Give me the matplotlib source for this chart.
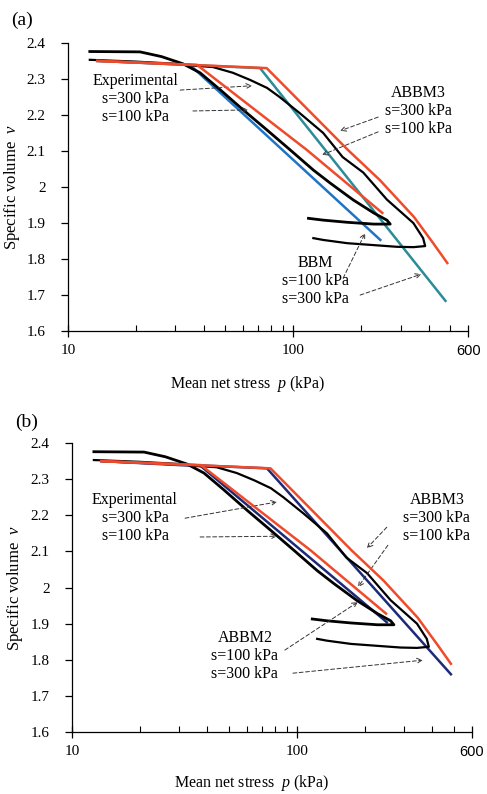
"""
Specific volume vs mean net stress: experiment vs BBM / ABBM2 / ABBM3
"""
import matplotlib
matplotlib.use('Agg')
import matplotlib.pyplot as plt
from matplotlib.ticker import NullFormatter

plt.rcParams['font.family'] = ['Liberation Serif', 'DejaVu Serif']
plt.rcParams['mathtext.fontset'] = 'custom'
plt.rcParams['mathtext.rm'] = 'Liberation Serif'
plt.rcParams['mathtext.it'] = 'Liberation Serif:italic'

# experimental curves (loading + unloading)
exp100_p = [12.5, 20.9, 26, 32.4, 38.6, 47.4, 60, 76.6, 97, 123, 146, 185, 228, 261, 270,
            228, 174, 136, 117]
exp100_v = [2.376, 2.375, 2.362, 2.342, 2.317, 2.27, 2.214, 2.158, 2.103, 2.047, 2.011, 1.964, 1.928, 1.908, 1.897,
            1.897, 1.902, 1.908, 1.913]
exp300_p = [12.5, 20, 30, 37.4, 44, 54, 64.5, 76.6, 87, 107, 136, 166, 205, 261, 342, 378, 386,
            342, 289, 174, 136, 123]
exp300_v = [2.353, 2.348, 2.342, 2.336, 2.333, 2.317, 2.297, 2.275, 2.25, 2.205, 2.15, 2.083, 2.04, 1.965, 1.90, 1.858,
            1.836, 1.833, 1.834, 1.844, 1.853, 1.858]

# ABBM3
abbm3_100_p = [13.5, 37.4, 115, 205, 249]
abbm3_100_v = [2.35, 2.339, 2.103, 1.972, 1.928]
abbm3_300_p = [13.5, 76.3, 175, 243, 344, 419, 484]
abbm3_300_v = [2.35, 2.33, 2.103, 2.019, 1.917, 1.844, 1.789]

# BBM
bbm100_p = [13.5, 34.8, 244]
bbm100_v = [2.35, 2.339, 1.853]
bbm300_p = [13.5, 71.3, 475]
bbm300_v = [2.35, 2.33, 1.684]

# ABBM2
abbm2_100_p = [13.5, 37.4, 251]
abbm2_100_v = [2.35, 2.336, 1.904]
abbm2_300_p = [13.5, 73.6, 484]
abbm2_300_v = [2.35, 2.33, 1.76]

RED = '#ef4b2b'
BLUE = '#1f74c6'
TEAL = '#2b8c98'
NAVY = '#1c2a78'
FS = 11
FS_NOTE = 11.5


def style_axes(ax):
    ax.set_xscale('log')
    ax.set_xlim(10, 600)
    ax.set_ylim(1.6, 2.4)
    ax.spines['top'].set_visible(False)
    ax.spines['right'].set_visible(False)
    ax.set_yticks([1.6, 1.7, 1.8, 1.9, 2.0, 2.1, 2.2, 2.3, 2.4])
    ax.set_yticklabels(['1.6', '1.7', '1.8', '1.9', '2', '2.1', '2.2', '2.3', '2.4'])
    ax.set_xticks([10, 100, 600])
    ax.set_xticklabels(['10', '100', '600'])
    ax.xaxis.set_minor_formatter(NullFormatter())
    ax.tick_params(axis='x', which='major', direction='inout', length=8, width=0.9, pad=5, labelsize=FS)
    ax.tick_params(axis='x', which='minor', direction='in', length=4, width=0.8)
    ax.tick_params(axis='y', which='major', direction='out', length=5, width=0.9, pad=11, labelsize=FS)
    lab600 = ax.get_xticklabels()[2]
    lab600.set_fontfamily(['Liberation Sans', 'DejaVu Sans'])
    lab600.set_fontsize(10.5)
    ax.set_ylabel('Specific volume  $v$', fontsize=12)
    ax.set_xlabel('Mean net stress  $p$ (kPa)', fontsize=11.5)
    for s in ('left', 'bottom'):
        ax.spines[s].set_linewidth(0.9)


def arrow(ax, start, end):
    ax.annotate('', xy=end, xytext=start,
                arrowprops=dict(arrowstyle='->', linestyle=(0, (4, 2.5)), lw=0.7, color='#333333',
                                shrinkA=0, shrinkB=0, mutation_scale=9))


fig = plt.figure(figsize=(4.87, 7.94), dpi=100)
ax1 = fig.add_axes([0.1396, 0.583, 0.822, 0.363])
ax2 = fig.add_axes([0.148, 0.078, 0.821, 0.364])

# ---- (a)
ax1.plot(bbm100_p, bbm100_v, color=BLUE, lw=1.8, zorder=2)
ax1.plot(bbm300_p, bbm300_v, color=TEAL, lw=1.8, zorder=2)
ax1.plot(exp100_p, exp100_v, color='black', lw=2.0, zorder=3)
ax1.plot(exp300_p, exp300_v, color='black', lw=1.6, zorder=3)
ax1.plot(abbm3_100_p, abbm3_100_v, color=RED, lw=1.8, zorder=4)
ax1.plot(abbm3_300_p, abbm3_300_v, color=RED, lw=1.8, zorder=4)
style_axes(ax1)
ax1.yaxis.set_label_coords(-0.115, 0.5)
ax1.xaxis.set_label_coords(0.45, -0.149)

ax1.text(19.9, 2.244, 'Experimental\ns=300 kPa\ns=100 kPa', ha='center', va='center',
         fontsize=FS_NOTE, linespacing=1.15)
arrow(ax1, (31.5, 2.269), (65.7, 2.281))
arrow(ax1, (35.9, 2.211), (63.1, 2.214))
ax1.text(359, 2.211, 'ABBM3\ns=300 kPa\ns=100 kPa', ha='center', va='center',
         fontsize=FS_NOTE, linespacing=1.15)
arrow(ax1, (238.6, 2.194), (161.8, 2.156))
arrow(ax1, (238.6, 2.153), (134.5, 2.089))
ax1.text(125.3, 1.739, 'BBM\ns=100 kPa\ns=300 kPa', ha='center', va='center',
         fontsize=FS_NOTE, linespacing=1.15)
arrow(ax1, (166.8, 1.747), (208.9, 1.872))
arrow(ax1, (198.5, 1.70), (370.6, 1.758))

# ---- (b)
ax2.plot(abbm2_100_p, abbm2_100_v, color=NAVY, lw=1.8, zorder=2)
ax2.plot(abbm2_300_p, abbm2_300_v, color=NAVY, lw=1.8, zorder=2)
ax2.plot(exp100_p, exp100_v, color='black', lw=2.0, zorder=3)
ax2.plot(exp300_p, exp300_v, color='black', lw=1.6, zorder=3)
ax2.plot(abbm3_100_p, abbm3_100_v, color=RED, lw=1.8, zorder=4)
ax2.plot(abbm3_300_p, abbm3_300_v, color=RED, lw=1.8, zorder=4)
style_axes(ax2)
ax2.yaxis.set_label_coords(-0.1175, 0.5)
ax2.xaxis.set_label_coords(0.45, -0.142)

ax2.text(19.05, 2.192, 'Experimental\ns=300 kPa\ns=100 kPa', ha='center', va='center',
         fontsize=FS_NOTE, linespacing=1.15)
arrow(ax2, (31.8, 2.192), (81.5, 2.237))
arrow(ax2, (37.1, 2.140), (81.5, 2.142))
ax2.text(419, 2.192, 'ABBM3\ns=300 kPa\ns=100 kPa', ha='center', va='center',
         fontsize=FS_NOTE, linespacing=1.15)
arrow(ax2, (251, 2.167), (204.7, 2.109))
arrow(ax2, (253.7, 2.117), (186.7, 2.001))
ax2.text(58.7, 1.81, 'ABBM2\ns=100 kPa\ns=300 kPa', ha='center', va='center',
         fontsize=FS_NOTE, linespacing=1.15)
arrow(ax2, (88.4, 1.827), (186.7, 1.96))
arrow(ax2, (96, 1.763), (363, 1.799))

fig.text(22 / 487, 1 - 20 / 794, '(a)', ha='center', va='center', fontsize=14)
fig.text(27 / 487, 1 - 422 / 794, '(b)', ha='center', va='center', fontsize=14)

fig.savefig('out.png', dpi=100)
